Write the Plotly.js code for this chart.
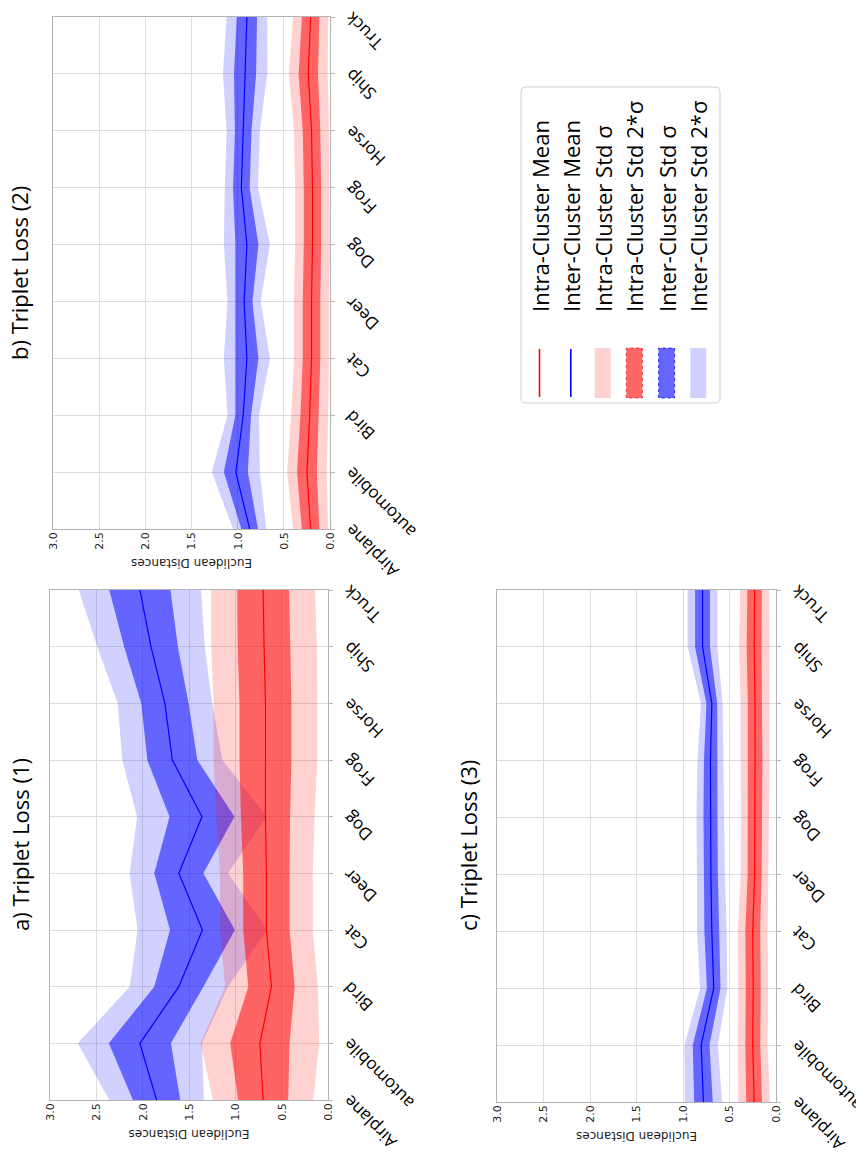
<!DOCTYPE html>
<html>
<head>
<meta charset="utf-8">
<script src="https://cdn.plot.ly/plotly-3.0.1.min.js"></script>
<style>
  html, body { margin:0; padding:0; background:#fff; overflow:hidden; width:856px; height:1160px; }
  #wrap { position:absolute; left:0; top:0; width:1160px; height:856px;
          transform-origin:0 0; transform: translate(0px, 1160px) rotate(-90deg); }
</style>
</head>
<body>
<div id="wrap"></div>
<script>
const categories = ['Airplane','automobile','Bird','Cat','Deer','Dog','Frog','Horse','Ship','Truck'];

// a) Triplet Loss (1)
const a_inter_mean = [1.85, 2.03, 1.61, 1.355, 1.61, 1.36, 1.68, 1.76, 1.91, 2.03];
const a_inter_std  = [0.255, 0.335, 0.265, 0.35, 0.265, 0.35, 0.27, 0.255, 0.29, 0.33];
const a_intra_mean = [0.70, 0.735, 0.61, 0.665, 0.665, 0.675, 0.675, 0.675, 0.69, 0.70];
const a_intra_std  = [0.27, 0.32, 0.25, 0.25, 0.25, 0.265, 0.28, 0.28, 0.285, 0.28];

// b) Triplet Loss (2)
const b_inter_mean = [0.87, 1.02, 0.94, 0.90, 0.93, 0.90, 0.96, 0.94, 0.92, 0.90];
const b_inter_std  = [0.09, 0.13, 0.085, 0.125, 0.09, 0.125, 0.09, 0.09, 0.12, 0.11];
const b_intra_mean = [0.21, 0.25, 0.22, 0.20, 0.20, 0.19, 0.19, 0.20, 0.235, 0.21];
const b_intra_std  = [0.095, 0.107, 0.10, 0.095, 0.095, 0.094, 0.094, 0.095, 0.105, 0.095];

// c) Triplet Loss (3)
const c_inter_mean = [0.78, 0.805, 0.67, 0.69, 0.70, 0.705, 0.705, 0.69, 0.79, 0.79];
const c_inter_std  = [0.10, 0.09, 0.073, 0.08, 0.075, 0.075, 0.07, 0.058, 0.08, 0.08];
const c_intra_mean = [0.235, 0.25, 0.245, 0.25, 0.23, 0.225, 0.225, 0.225, 0.235, 0.23];
const c_intra_std  = [0.085, 0.08, 0.08, 0.08, 0.075, 0.075, 0.078, 0.078, 0.08, 0.078];

const titles = ['a) Triplet Loss (1)', 'b) Triplet Loss (2)', 'c) Triplet Loss (3)'];
const legendNames = ['Intra-Cluster Mean','Inter-Cluster Mean','Intra-Cluster Std \u03c3','Intra-Cluster Std 2*\u03c3','Inter-Cluster Std \u03c3','Inter-Cluster Std 2*\u03c3'];

const RED_LIGHT = 'rgba(255,0,0,0.18)';
const RED_DARK  = 'rgba(255,0,0,0.52)';
const BLUE_LIGHT = 'rgba(0,0,255,0.18)';
const BLUE_DARK  = 'rgba(0,0,255,0.52)';

function band(mean, std, k, color, xa, ya, name) {
  const up = mean.map((m,i)=>m + k*std[i]);
  const lo = mean.map((m,i)=>m - k*std[i]);
  return {
    type:'scatter', mode:'lines', x: categories.concat(categories.slice().reverse()),
    y: up.concat(lo.slice().reverse()), fill:'toself', fillcolor: color,
    line:{width:0, color:color}, xaxis:xa, yaxis:ya, name:name, showlegend:false, hoverinfo:'skip'
  };
}
function meanLine(mean, color, xa, ya, name) {
  return {type:'scatter', mode:'lines', x:categories, y:mean, line:{color:color, width:1.2},
          xaxis:xa, yaxis:ya, name:name, showlegend:false, hoverinfo:'skip'};
}

const sets = [
  [a_intra_mean, a_intra_std, a_inter_mean, a_inter_std, 'x', 'y'],
  [b_intra_mean, b_intra_std, b_inter_mean, b_inter_std, 'x2', 'y2'],
  [c_intra_mean, c_intra_std, c_inter_mean, c_inter_std, 'x3', 'y3']
];
const traces = [];
sets.forEach((s) => {
  const [im, is, em, es, xa, ya] = s;
  traces.push(band(em, es, 2, BLUE_LIGHT, xa, ya, legendNames[5]));
  traces.push(band(em, es, 1, BLUE_DARK, xa, ya, legendNames[4]));
  traces.push(band(im, is, 2, RED_LIGHT, xa, ya, legendNames[2]));
  traces.push(band(im, is, 1, RED_DARK, xa, ya, legendNames[3]));
  traces.push(meanLine(im, 'red', xa, ya, legendNames[0]));
  traces.push(meanLine(em, 'blue', xa, ya, legendNames[1]));
});

const W = 1160, H = 856;
const boxes = [
  {x0:60, x1:570, y0:50, y1:328},
  {x0:631, x1:1143, y0:53, y1:330},
  {x0:58, x1:570, y0:497, y1:776}
];
function xaxisCfg(b, anchor) {
  return {domain:[b.x0/W, b.x1/W], anchor:anchor, type:'category', range:[0,9],
    showgrid:true, gridcolor:'#dedede', gridwidth:1, showline:true, mirror:true,
    linecolor:'#b4b4b4', linewidth:1, ticks:'outside', ticklen:4, tickcolor:'#b4b4b4',
    tickangle:-45, tickfont:{family:'Open Sans', size:17, color:'#000'}, zeroline:false, fixedrange:true};
}
function yaxisCfg(b, anchor) {
  return {domain:[1-b.y1/H, 1-b.y0/H], anchor:anchor, range:[0,3], dtick:0.5, tick0:0,
    tickformat:'.1f', showgrid:true, gridcolor:'#dedede', gridwidth:1, showline:true, mirror:true,
    linecolor:'#b4b4b4', linewidth:1, ticks:'', ticklen:0,
    tickfont:{family:'DejaVu Sans', size:11, color:'#222'}, zeroline:false, fixedrange:true,
    title:{text:'Euclidean Distances', font:{family:'DejaVu Sans', size:12, color:'#222'}, standoff:6}};
}

// Legend (drawn in figure pixels, converted to paper fractions)
const px = X => X / W, py = Y => 1 - Y / H;
const LX0 = 757, LX1 = 1073, LY0 = 521, LY1 = 720, R = 5;
const rowY = [539.5, 570.8, 602.7, 634.3, 666.6, 698.3];
const legendSwatch = [
  {kind:'line', color:'red'},
  {kind:'line', color:'blue'},
  {kind:'rect', fill:'rgba(255,0,0,0.18)', edge:null},
  {kind:'rect', fill:'rgba(255,0,0,0.6)', edge:'rgba(230,40,40,0.9)'},
  {kind:'rect', fill:'rgba(0,0,255,0.6)', edge:'rgba(40,40,230,0.9)'},
  {kind:'rect', fill:'rgba(0,0,255,0.18)', edge:null}
];
const shapes = [];
shapes.push({type:'path', xref:'paper', yref:'paper', layer:'above',
  path: `M${px(LX0+R)},${py(LY0)} L${px(LX1-R)},${py(LY0)} Q${px(LX1)},${py(LY0)} ${px(LX1)},${py(LY0+R)} ` +
        `L${px(LX1)},${py(LY1-R)} Q${px(LX1)},${py(LY1)} ${px(LX1-R)},${py(LY1)} ` +
        `L${px(LX0+R)},${py(LY1)} Q${px(LX0)},${py(LY1)} ${px(LX0)},${py(LY1-R)} ` +
        `L${px(LX0)},${py(LY0+R)} Q${px(LX0)},${py(LY0)} ${px(LX0+R)},${py(LY0)} Z`,
  fillcolor:'rgba(255,255,255,0.9)', line:{color:'#cfcfcf', width:1}});
legendSwatch.forEach((s, i) => {
  const yc = rowY[i];
  if (s.kind === 'line') {
    shapes.push({type:'line', xref:'paper', yref:'paper', layer:'above',
      x0:px(763), x1:px(811), y0:py(yc), y1:py(yc), line:{color:s.color, width:1.6}});
  } else {
    shapes.push({type:'rect', xref:'paper', yref:'paper', layer:'above',
      x0:px(762), x1:px(812), y0:py(yc-8), y1:py(yc+8), fillcolor:s.fill,
      line: s.edge ? {color:s.edge, width:1, dash:'dot'} : {width:0}});
  }
});

const annotations = boxes.map((b, i) => ({
  text: titles[i], xref:'paper', yref:'paper', x:((b.x0+b.x1)/2)/W, y:1-[20,19,468][i]/H,
  xanchor:'center', yanchor:'middle', showarrow:false,
  font:{family:'Open Sans', size:22, color:'#000'}
}));
legendNames.forEach((n, i) => {
  annotations.push({text:n, xref:'paper', yref:'paper', x:px(846), y:py(rowY[i]),
    xanchor:'left', yanchor:'middle', showarrow:false,
    font:{family:'Open Sans', size:22, color:'#000'}});
});

const layout = {
  width:W, height:H, margin:{l:0, r:0, t:0, b:0}, paper_bgcolor:'#fff', plot_bgcolor:'#fff',
  showlegend:false,
  xaxis: xaxisCfg(boxes[0], 'y'), yaxis: yaxisCfg(boxes[0], 'x'),
  xaxis2: xaxisCfg(boxes[1], 'y2'), yaxis2: yaxisCfg(boxes[1], 'x2'),
  xaxis3: xaxisCfg(boxes[2], 'y3'), yaxis3: yaxisCfg(boxes[2], 'x3'),
  shapes: shapes,
  annotations: annotations
};
Plotly.newPlot('wrap', traces, layout, {staticPlot:true, displayModeBar:false});
</script>
</body>
</html>
